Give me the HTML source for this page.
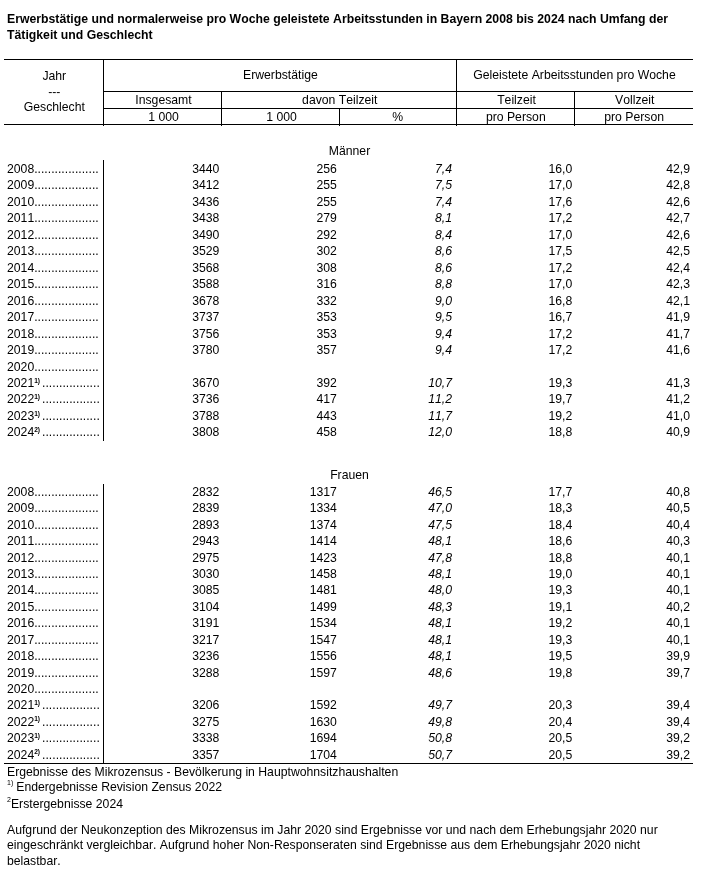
<!DOCTYPE html>
<html><head><meta charset="utf-8"><style>
html,body{margin:0;padding:0;background:#fff;width:709px;height:877px;overflow:hidden;position:relative}
body{filter:grayscale(1)}
.t{position:absolute;font-family:"Liberation Sans",sans-serif;font-size:12.23px;line-height:14px;color:#000;white-space:nowrap;font-kerning:none;font-feature-settings:"kern" 0,"liga" 0}
.b{font-weight:bold}
.i{font-style:italic}
.c{text-align:center}
.r{text-align:right}
.hl{position:absolute;height:1px;background:#000}
.vl{position:absolute;width:1px;background:#000}
.sr{font-size:6.6px;font-weight:bold;position:relative;top:-4.3px;margin-right:2px}
.s1{font-size:7px;position:relative;top:-6px;margin-right:3px}
.s2{font-size:7px;position:relative;top:-6.5px;margin-right:0px}
.tt{font-size:12.25px}
</style></head><body>
<div class="t b tt" style="left:7px;top:12px;">Erwerbstätige und normalerweise pro Woche geleistete Arbeitsstunden in Bayern 2008 bis 2024 nach Umfang der</div>
<div class="t b tt" style="left:7px;top:28px;">Tätigkeit und Geschlecht</div>
<div class="hl" style="left:4px;width:689px;top:59px"></div>
<div class="hl" style="left:103px;width:590px;top:91px"></div>
<div class="hl" style="left:103px;width:590px;top:108px"></div>
<div class="hl" style="left:4px;width:689px;top:124px"></div>
<div class="vl" style="left:103px;top:59px;height:67px"></div>
<div class="vl" style="left:221px;top:91px;height:35px"></div>
<div class="vl" style="left:339px;top:108px;height:18px"></div>
<div class="vl" style="left:456px;top:59px;height:67px"></div>
<div class="vl" style="left:574px;top:91px;height:35px"></div>
<div class="t c " style="left:4.8px;width:99px;top:69px">Jahr</div>
<div class="t c " style="left:4.8px;width:99px;top:85px">---</div>
<div class="t c " style="left:4.8px;width:99px;top:100px">Geschlecht</div>
<div class="t c " style="left:103.9px;width:353px;top:68px">Erwerbstätige</div>
<div class="t c " style="left:456px;width:237px;top:68px">Geleistete Arbeitsstunden pro Woche</div>
<div class="t c " style="left:104.5px;width:118px;top:93px">Insgesamt</div>
<div class="t c " style="left:222.3px;width:235px;top:93px">davon Teilzeit</div>
<div class="t c " style="left:457.5px;width:118px;top:93px">Teilzeit</div>
<div class="t c " style="left:575.3px;width:119px;top:93px">Vollzeit</div>
<div class="t c " style="left:104.5px;width:118px;top:110px">1 000</div>
<div class="t c " style="left:222.5px;width:118px;top:110px">1 000</div>
<div class="t c " style="left:339.3px;width:117px;top:110px">%</div>
<div class="t c " style="left:456.8px;width:118px;top:110px">pro Person</div>
<div class="t c " style="left:574.6px;width:119px;top:110px">pro Person</div>
<div class="t c " style="left:5px;width:689px;top:144px">Männer</div>
<div class="vl" style="left:103px;top:160px;height:281px"></div>
<div class="t " style="left:7px;top:162.0px;">2008...................</div>
<div class="t r " style="right:489.70px;top:162.0px">3440</div>
<div class="t r " style="right:372.20px;top:162.0px">256</div>
<div class="t r i" style="right:257.00px;top:162.0px">7,4</div>
<div class="t r " style="right:136.70px;top:162.0px">16,0</div>
<div class="t r " style="right:19.00px;top:162.0px">42,9</div>
<div class="t " style="left:7px;top:178.46px;">2009...................</div>
<div class="t r " style="right:489.70px;top:178.46px">3412</div>
<div class="t r " style="right:372.20px;top:178.46px">255</div>
<div class="t r i" style="right:257.00px;top:178.46px">7,5</div>
<div class="t r " style="right:136.70px;top:178.46px">17,0</div>
<div class="t r " style="right:19.00px;top:178.46px">42,8</div>
<div class="t " style="left:7px;top:194.92px;">2010...................</div>
<div class="t r " style="right:489.70px;top:194.92px">3436</div>
<div class="t r " style="right:372.20px;top:194.92px">255</div>
<div class="t r i" style="right:257.00px;top:194.92px">7,4</div>
<div class="t r " style="right:136.70px;top:194.92px">17,6</div>
<div class="t r " style="right:19.00px;top:194.92px">42,6</div>
<div class="t " style="left:7px;top:211.38px;">2011...................</div>
<div class="t r " style="right:489.70px;top:211.38px">3438</div>
<div class="t r " style="right:372.20px;top:211.38px">279</div>
<div class="t r i" style="right:257.00px;top:211.38px">8,1</div>
<div class="t r " style="right:136.70px;top:211.38px">17,2</div>
<div class="t r " style="right:19.00px;top:211.38px">42,7</div>
<div class="t " style="left:7px;top:227.84px;">2012...................</div>
<div class="t r " style="right:489.70px;top:227.84px">3490</div>
<div class="t r " style="right:372.20px;top:227.84px">292</div>
<div class="t r i" style="right:257.00px;top:227.84px">8,4</div>
<div class="t r " style="right:136.70px;top:227.84px">17,0</div>
<div class="t r " style="right:19.00px;top:227.84px">42,6</div>
<div class="t " style="left:7px;top:244.3px;">2013...................</div>
<div class="t r " style="right:489.70px;top:244.3px">3529</div>
<div class="t r " style="right:372.20px;top:244.3px">302</div>
<div class="t r i" style="right:257.00px;top:244.3px">8,6</div>
<div class="t r " style="right:136.70px;top:244.3px">17,5</div>
<div class="t r " style="right:19.00px;top:244.3px">42,5</div>
<div class="t " style="left:7px;top:260.76px;">2014...................</div>
<div class="t r " style="right:489.70px;top:260.76px">3568</div>
<div class="t r " style="right:372.20px;top:260.76px">308</div>
<div class="t r i" style="right:257.00px;top:260.76px">8,6</div>
<div class="t r " style="right:136.70px;top:260.76px">17,2</div>
<div class="t r " style="right:19.00px;top:260.76px">42,4</div>
<div class="t " style="left:7px;top:277.22px;">2015...................</div>
<div class="t r " style="right:489.70px;top:277.22px">3588</div>
<div class="t r " style="right:372.20px;top:277.22px">316</div>
<div class="t r i" style="right:257.00px;top:277.22px">8,8</div>
<div class="t r " style="right:136.70px;top:277.22px">17,0</div>
<div class="t r " style="right:19.00px;top:277.22px">42,3</div>
<div class="t " style="left:7px;top:293.68px;">2016...................</div>
<div class="t r " style="right:489.70px;top:293.68px">3678</div>
<div class="t r " style="right:372.20px;top:293.68px">332</div>
<div class="t r i" style="right:257.00px;top:293.68px">9,0</div>
<div class="t r " style="right:136.70px;top:293.68px">16,8</div>
<div class="t r " style="right:19.00px;top:293.68px">42,1</div>
<div class="t " style="left:7px;top:310.14px;">2017...................</div>
<div class="t r " style="right:489.70px;top:310.14px">3737</div>
<div class="t r " style="right:372.20px;top:310.14px">353</div>
<div class="t r i" style="right:257.00px;top:310.14px">9,5</div>
<div class="t r " style="right:136.70px;top:310.14px">16,7</div>
<div class="t r " style="right:19.00px;top:310.14px">41,9</div>
<div class="t " style="left:7px;top:326.6px;">2018...................</div>
<div class="t r " style="right:489.70px;top:326.6px">3756</div>
<div class="t r " style="right:372.20px;top:326.6px">353</div>
<div class="t r i" style="right:257.00px;top:326.6px">9,4</div>
<div class="t r " style="right:136.70px;top:326.6px">17,2</div>
<div class="t r " style="right:19.00px;top:326.6px">41,7</div>
<div class="t " style="left:7px;top:343.06px;">2019...................</div>
<div class="t r " style="right:489.70px;top:343.06px">3780</div>
<div class="t r " style="right:372.20px;top:343.06px">357</div>
<div class="t r i" style="right:257.00px;top:343.06px">9,4</div>
<div class="t r " style="right:136.70px;top:343.06px">17,2</div>
<div class="t r " style="right:19.00px;top:343.06px">41,6</div>
<div class="t " style="left:7px;top:359.52px;">2020...................</div>
<div class="t " style="left:7px;top:375.98px;">2021<span class="sr">1)</span>.................</div>
<div class="t r " style="right:489.70px;top:375.98px">3670</div>
<div class="t r " style="right:372.20px;top:375.98px">392</div>
<div class="t r i" style="right:257.00px;top:375.98px">10,7</div>
<div class="t r " style="right:136.70px;top:375.98px">19,3</div>
<div class="t r " style="right:19.00px;top:375.98px">41,3</div>
<div class="t " style="left:7px;top:392.44px;">2022<span class="sr">1)</span>.................</div>
<div class="t r " style="right:489.70px;top:392.44px">3736</div>
<div class="t r " style="right:372.20px;top:392.44px">417</div>
<div class="t r i" style="right:257.00px;top:392.44px">11,2</div>
<div class="t r " style="right:136.70px;top:392.44px">19,7</div>
<div class="t r " style="right:19.00px;top:392.44px">41,2</div>
<div class="t " style="left:7px;top:408.9px;">2023<span class="sr">1)</span>.................</div>
<div class="t r " style="right:489.70px;top:408.9px">3788</div>
<div class="t r " style="right:372.20px;top:408.9px">443</div>
<div class="t r i" style="right:257.00px;top:408.9px">11,7</div>
<div class="t r " style="right:136.70px;top:408.9px">19,2</div>
<div class="t r " style="right:19.00px;top:408.9px">41,0</div>
<div class="t " style="left:7px;top:425.36px;">2024<span class="sr">2)</span>.................</div>
<div class="t r " style="right:489.70px;top:425.36px">3808</div>
<div class="t r " style="right:372.20px;top:425.36px">458</div>
<div class="t r i" style="right:257.00px;top:425.36px">12,0</div>
<div class="t r " style="right:136.70px;top:425.36px">18,8</div>
<div class="t r " style="right:19.00px;top:425.36px">40,9</div>
<div class="t c " style="left:5px;width:689px;top:468px">Frauen</div>
<div class="vl" style="left:103px;top:484px;height:280px"></div>
<div class="t " style="left:7px;top:485.0px;">2008...................</div>
<div class="t r " style="right:489.70px;top:485.0px">2832</div>
<div class="t r " style="right:372.20px;top:485.0px">1317</div>
<div class="t r i" style="right:257.00px;top:485.0px">46,5</div>
<div class="t r " style="right:136.70px;top:485.0px">17,7</div>
<div class="t r " style="right:19.00px;top:485.0px">40,8</div>
<div class="t " style="left:7px;top:501.41px;">2009...................</div>
<div class="t r " style="right:489.70px;top:501.41px">2839</div>
<div class="t r " style="right:372.20px;top:501.41px">1334</div>
<div class="t r i" style="right:257.00px;top:501.41px">47,0</div>
<div class="t r " style="right:136.70px;top:501.41px">18,3</div>
<div class="t r " style="right:19.00px;top:501.41px">40,5</div>
<div class="t " style="left:7px;top:517.82px;">2010...................</div>
<div class="t r " style="right:489.70px;top:517.82px">2893</div>
<div class="t r " style="right:372.20px;top:517.82px">1374</div>
<div class="t r i" style="right:257.00px;top:517.82px">47,5</div>
<div class="t r " style="right:136.70px;top:517.82px">18,4</div>
<div class="t r " style="right:19.00px;top:517.82px">40,4</div>
<div class="t " style="left:7px;top:534.23px;">2011...................</div>
<div class="t r " style="right:489.70px;top:534.23px">2943</div>
<div class="t r " style="right:372.20px;top:534.23px">1414</div>
<div class="t r i" style="right:257.00px;top:534.23px">48,1</div>
<div class="t r " style="right:136.70px;top:534.23px">18,6</div>
<div class="t r " style="right:19.00px;top:534.23px">40,3</div>
<div class="t " style="left:7px;top:550.64px;">2012...................</div>
<div class="t r " style="right:489.70px;top:550.64px">2975</div>
<div class="t r " style="right:372.20px;top:550.64px">1423</div>
<div class="t r i" style="right:257.00px;top:550.64px">47,8</div>
<div class="t r " style="right:136.70px;top:550.64px">18,8</div>
<div class="t r " style="right:19.00px;top:550.64px">40,1</div>
<div class="t " style="left:7px;top:567.05px;">2013...................</div>
<div class="t r " style="right:489.70px;top:567.05px">3030</div>
<div class="t r " style="right:372.20px;top:567.05px">1458</div>
<div class="t r i" style="right:257.00px;top:567.05px">48,1</div>
<div class="t r " style="right:136.70px;top:567.05px">19,0</div>
<div class="t r " style="right:19.00px;top:567.05px">40,1</div>
<div class="t " style="left:7px;top:583.46px;">2014...................</div>
<div class="t r " style="right:489.70px;top:583.46px">3085</div>
<div class="t r " style="right:372.20px;top:583.46px">1481</div>
<div class="t r i" style="right:257.00px;top:583.46px">48,0</div>
<div class="t r " style="right:136.70px;top:583.46px">19,3</div>
<div class="t r " style="right:19.00px;top:583.46px">40,1</div>
<div class="t " style="left:7px;top:599.87px;">2015...................</div>
<div class="t r " style="right:489.70px;top:599.87px">3104</div>
<div class="t r " style="right:372.20px;top:599.87px">1499</div>
<div class="t r i" style="right:257.00px;top:599.87px">48,3</div>
<div class="t r " style="right:136.70px;top:599.87px">19,1</div>
<div class="t r " style="right:19.00px;top:599.87px">40,2</div>
<div class="t " style="left:7px;top:616.28px;">2016...................</div>
<div class="t r " style="right:489.70px;top:616.28px">3191</div>
<div class="t r " style="right:372.20px;top:616.28px">1534</div>
<div class="t r i" style="right:257.00px;top:616.28px">48,1</div>
<div class="t r " style="right:136.70px;top:616.28px">19,2</div>
<div class="t r " style="right:19.00px;top:616.28px">40,1</div>
<div class="t " style="left:7px;top:632.69px;">2017...................</div>
<div class="t r " style="right:489.70px;top:632.69px">3217</div>
<div class="t r " style="right:372.20px;top:632.69px">1547</div>
<div class="t r i" style="right:257.00px;top:632.69px">48,1</div>
<div class="t r " style="right:136.70px;top:632.69px">19,3</div>
<div class="t r " style="right:19.00px;top:632.69px">40,1</div>
<div class="t " style="left:7px;top:649.1px;">2018...................</div>
<div class="t r " style="right:489.70px;top:649.1px">3236</div>
<div class="t r " style="right:372.20px;top:649.1px">1556</div>
<div class="t r i" style="right:257.00px;top:649.1px">48,1</div>
<div class="t r " style="right:136.70px;top:649.1px">19,5</div>
<div class="t r " style="right:19.00px;top:649.1px">39,9</div>
<div class="t " style="left:7px;top:665.51px;">2019...................</div>
<div class="t r " style="right:489.70px;top:665.51px">3288</div>
<div class="t r " style="right:372.20px;top:665.51px">1597</div>
<div class="t r i" style="right:257.00px;top:665.51px">48,6</div>
<div class="t r " style="right:136.70px;top:665.51px">19,8</div>
<div class="t r " style="right:19.00px;top:665.51px">39,7</div>
<div class="t " style="left:7px;top:681.92px;">2020...................</div>
<div class="t " style="left:7px;top:698.33px;">2021<span class="sr">1)</span>.................</div>
<div class="t r " style="right:489.70px;top:698.33px">3206</div>
<div class="t r " style="right:372.20px;top:698.33px">1592</div>
<div class="t r i" style="right:257.00px;top:698.33px">49,7</div>
<div class="t r " style="right:136.70px;top:698.33px">20,3</div>
<div class="t r " style="right:19.00px;top:698.33px">39,4</div>
<div class="t " style="left:7px;top:714.74px;">2022<span class="sr">1)</span>.................</div>
<div class="t r " style="right:489.70px;top:714.74px">3275</div>
<div class="t r " style="right:372.20px;top:714.74px">1630</div>
<div class="t r i" style="right:257.00px;top:714.74px">49,8</div>
<div class="t r " style="right:136.70px;top:714.74px">20,4</div>
<div class="t r " style="right:19.00px;top:714.74px">39,4</div>
<div class="t " style="left:7px;top:731.15px;">2023<span class="sr">1)</span>.................</div>
<div class="t r " style="right:489.70px;top:731.15px">3338</div>
<div class="t r " style="right:372.20px;top:731.15px">1694</div>
<div class="t r i" style="right:257.00px;top:731.15px">50,8</div>
<div class="t r " style="right:136.70px;top:731.15px">20,5</div>
<div class="t r " style="right:19.00px;top:731.15px">39,2</div>
<div class="t " style="left:7px;top:747.56px;">2024<span class="sr">2)</span>.................</div>
<div class="t r " style="right:489.70px;top:747.56px">3357</div>
<div class="t r " style="right:372.20px;top:747.56px">1704</div>
<div class="t r i" style="right:257.00px;top:747.56px">50,7</div>
<div class="t r " style="right:136.70px;top:747.56px">20,5</div>
<div class="t r " style="right:19.00px;top:747.56px">39,2</div>
<div class="hl" style="left:4px;width:689px;top:763px"></div>
<div class="t " style="left:7px;top:765px;">Ergebnisse des Mikrozensus - Bevölkerung in Hauptwohnsitzhaushalten</div>
<div class="t " style="left:7px;top:780px;"><span class="s1">1)</span>Endergebnisse Revision Zensus 2022</div>
<div class="t " style="left:7px;top:797px;"><span class="s2">2</span>Erstergebnisse 2024</div>
<div class="t " style="left:7px;top:823px;">Aufgrund der Neukonzeption des Mikrozensus im Jahr 2020 sind Ergebnisse vor und nach dem Erhebungsjahr 2020 nur</div>
<div class="t " style="left:7px;top:838px;">eingeschränkt vergleichbar. Aufgrund hoher Non-Responseraten sind Ergebnisse aus dem Erhebungsjahr 2020 nicht</div>
<div class="t " style="left:7px;top:854px;">belastbar.</div>
</body></html>
